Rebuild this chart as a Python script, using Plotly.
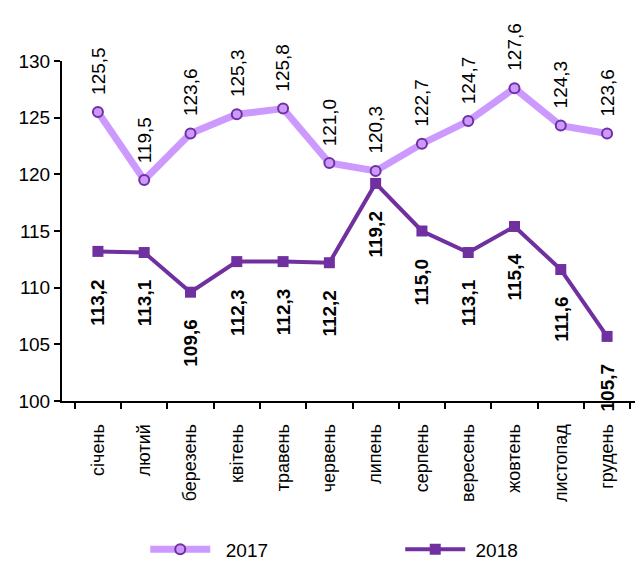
import plotly.graph_objects as go

months = ["січень", "лютий", "березень", "квітень", "травень", "червень",
          "липень", "серпень", "вересень", "жовтень", "листопад", "грудень"]
y2017 = [125.5, 119.5, 123.6, 125.3, 125.8, 121.0, 120.3, 122.7, 124.7, 127.6, 124.3, 123.6]
y2018 = [113.2, 113.1, 109.6, 112.3, 112.3, 112.2, 119.2, 115.0, 113.1, 115.4, 111.6, 105.7]
y_ticks = [100, 105, 110, 115, 120, 125, 130]

FONT = "Liberation Sans"
LIGHT = "#CC99FF"
DARK = "#7030A0"
FS = 19

def fmt(v):
    return f"{v:.1f}".replace(".", ",")

fig = go.Figure()
fig.add_trace(go.Scatter(
    x=months, y=y2017, name="\u00a0\u00a02017", mode="lines+markers",
    line=dict(color=LIGHT, width=7),
    marker=dict(symbol="circle", size=10, color=LIGHT, line=dict(color=DARK, width=2)),
))
fig.add_trace(go.Scatter(
    x=months, y=y2018, name="\u00a02018", mode="lines+markers",
    line=dict(color=DARK, width=4),
    marker=dict(symbol="square", size=11, color=DARK),
))

ann = []
for m, v in zip(months, y2017):
    ann.append(dict(x=m, y=v, xref="x", yref="y", text=fmt(v), showarrow=False,
                    textangle=-90, yanchor="bottom", xanchor="center", yshift=15,
                    font=dict(family=FONT, size=FS, color="#000000")))
for m, v in zip(months, y2018):
    ann.append(dict(x=m, y=v, xref="x", yref="y", text="<b>" + fmt(v) + "</b>", showarrow=False,
                    textangle=-90, yanchor="top", xanchor="center", yshift=-25,
                    font=dict(family=FONT, size=FS, color="#000000")))

fig.update_layout(
    width=643, height=581,
    margin=dict(l=54, r=8, t=53, b=188, autoexpand=False),
    paper_bgcolor="white", plot_bgcolor="white",
    font=dict(family=FONT, size=FS, color="#000000"),
    annotations=ann,
    showlegend=True,
    legend=dict(orientation="h", xref="container", yref="container",
                x=0.61, y=0.068, xanchor="center", yanchor="middle",
                font=dict(family=FONT, size=FS, color="#000000"),
                entrywidth=180, itemwidth=60),
)
fig.update_xaxes(
    type="category", showline=True, linecolor="#000000", linewidth=2,
    ticks="outside", ticklen=6, tickwidth=2, tickcolor="#000000",
    tickson="boundaries", tickangle=-90, showgrid=False, zeroline=False,
    tickfont=dict(family=FONT, size=18), automargin=False, ticklabelstandoff=14,
)
fig.update_yaxes(
    range=[100, 130], tickvals=y_ticks, ticktext=[str(t) for t in y_ticks],
    showline=True, linecolor="#000000", linewidth=2,
    ticks="outside", ticklen=6, tickwidth=2, tickcolor="#000000",
    showgrid=False, zeroline=False, ticklabelstandoff=0,
    tickfont=dict(family=FONT, size=FS), automargin=False,
)

fig.write_html("out.html")
